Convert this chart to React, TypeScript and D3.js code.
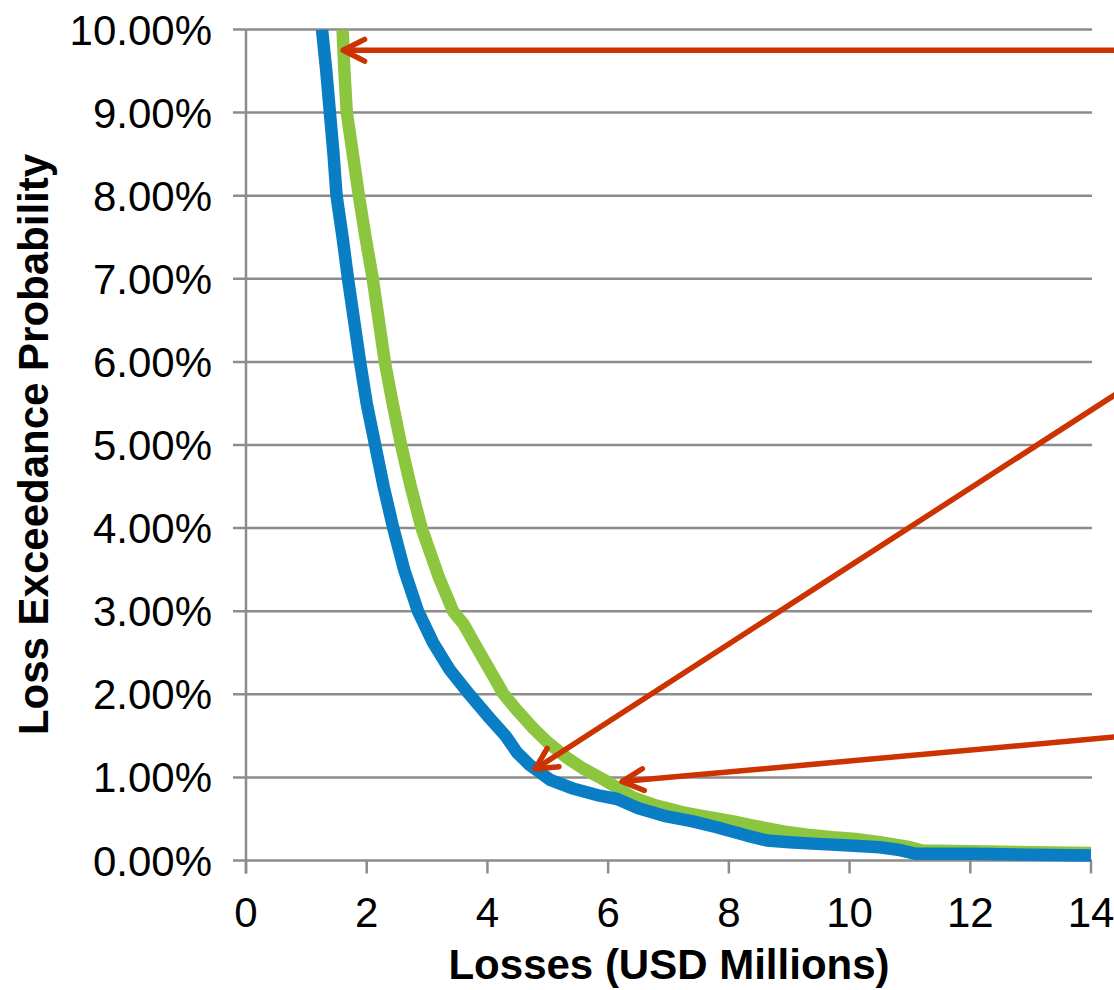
import React from "react";
import * as d3 from "d3";

const W = 1114;
const H = 990;

const xTicks = [0, 2, 4, 6, 8, 10, 12, 14];
const yTicks = [0, 1, 2, 3, 4, 5, 6, 7, 8, 9, 10];

// Blue series: losses (USD millions) vs exceedance probability (%)
const blueLoss = [1.26, 1.33, 1.39, 1.45, 1.5, 1.6, 1.69, 1.79, 1.89, 2.0, 2.14, 2.28, 2.44, 2.62, 2.85, 3.1, 3.38, 3.7, 4.04, 4.3, 4.49, 4.7, 4.85, 5.04, 5.4, 5.86, 6.15, 6.5, 6.97, 7.4, 7.8, 8.1, 8.3, 8.63, 9.0, 9.46, 10.0, 10.5, 10.8, 11.1, 12.0, 13.0, 14.0];
const blueProb = [10, 9.5, 9, 8.5, 8, 7.5, 7, 6.5, 6, 5.5, 5, 4.5, 4, 3.5, 3, 2.62, 2.29, 2.0, 1.71, 1.5, 1.3, 1.15, 1.07, 0.97, 0.87, 0.78, 0.74, 0.63, 0.53, 0.47, 0.4, 0.34, 0.3, 0.24, 0.22, 0.2, 0.18, 0.16, 0.13, 0.08, 0.08, 0.07, 0.06];

// Green series
const greenLoss = [1.6, 1.63, 1.67, 1.77, 1.87, 1.98, 2.1, 2.2, 2.3, 2.43, 2.57, 2.73, 2.91, 3.2, 3.43, 3.6, 3.85, 4.27, 4.5, 4.76, 5.0, 5.31, 5.6, 5.86, 6.1, 6.41, 6.8, 7.24, 7.6, 8.07, 8.4, 8.9, 9.3, 9.72, 10.1, 10.5, 11.0, 11.2, 12.0, 13.0, 14.0];
const greenProb = [10, 9.5, 9, 8.5, 8, 7.5, 7, 6.5, 6, 5.5, 5, 4.5, 4, 3.4, 3.0, 2.85, 2.53, 2.0, 1.8, 1.59, 1.42, 1.24, 1.1, 1.0, 0.9, 0.76, 0.66, 0.58, 0.53, 0.47, 0.42, 0.35, 0.31, 0.28, 0.26, 0.22, 0.16, 0.12, 0.11, 0.1, 0.09];

// Annotation arrows (data coordinates): start (off chart to the right) -> tip
const arrowFromX = [14.6, 14.6, 14.6];
const arrowFromY = [9.75, 5.7, 1.5];
const arrowTipX = [1.61, 4.79, 6.23];
const arrowTipY = [9.75, 1.1, 0.95];

const FONT = "'Liberation Sans', Arial, Helvetica, sans-serif";
const GRID = "#8c8c8c";
const BLUE = "#0a7ec4";
const GREEN = "#8cc63f";
const RED = "#cc3300";

export default function App() {
  const x = d3.scaleLinear().domain([0, 14]).range([246, 1091]);
  const y = d3.scaleLinear().domain([0, 10]).range([860.5, 29.5]);

  const line = d3
    .line<[number, number]>()
    .x((d) => x(d[0]))
    .y((d) => y(d[1]))
    .curve(d3.curveLinear);

  const blue: [number, number][] = blueLoss.map((v, i) => [v, blueProb[i]]);
  const green: [number, number][] = greenLoss.map((v, i) => [v, greenProb[i]]);

  const arrows = arrowTipX.map((tx, i) => {
    const x1 = x(arrowFromX[i]);
    const y1 = y(arrowFromY[i]);
    const x2 = x(tx);
    const y2 = y(arrowTipY[i]);
    const ang = Math.atan2(y1 - y2, x1 - x2);
    const len = 24;
    const spread = (27 * Math.PI) / 180;
    const a1x = x2 + len * Math.cos(ang + spread);
    const a1y = y2 + len * Math.sin(ang + spread);
    const a2x = x2 + len * Math.cos(ang - spread);
    const a2y = y2 + len * Math.sin(ang - spread);
    return { x1, y1, x2, y2, head: `M${a1x},${a1y}L${x2},${y2}L${a2x},${a2y}` };
  });

  const x0 = x(0);
  const y0 = y(0);

  return (
    <svg
      width={W}
      height={H}
      style={{ position: "absolute", left: 0, top: 0, background: "#fff" }}
      fontFamily={FONT}
    >
      <defs>
        <clipPath id="plot">
          <rect x={x0} y={y(10)} width={W - x0} height={y0 - y(10) + 10} />
        </clipPath>
      </defs>
      {/* horizontal gridlines */}
      {yTicks.map((t) => (
        <line key={"g" + t} x1={x0 - 13} x2={x(14) + 1} y1={y(t)} y2={y(t)} stroke={GRID} strokeWidth={2.5} />
      ))}
      {/* y axis */}
      <line x1={x0} x2={x0} y1={y(10)} y2={y0 + 13} stroke={GRID} strokeWidth={2.5} />
      {/* x ticks */}
      {xTicks.map((t) => (
        <line key={"xt" + t} x1={x(t)} x2={x(t)} y1={y0} y2={y0 + 13} stroke={GRID} strokeWidth={2.5} />
      ))}
      {/* y tick labels */}
      {yTicks.map((t) => (
        <text key={"yl" + t} x={212} y={y(t) + 15} textAnchor="end" fontSize={42} fill="#000">
          {t.toFixed(2) + "%"}
        </text>
      ))}
      {/* x tick labels */}
      {xTicks.map((t) => (
        <text key={"xl" + t} x={x(t)} y={927} textAnchor="middle" fontSize={42} fill="#000">
          {t}
        </text>
      ))}
      {/* axis titles */}
      <text x={669} y={979} textAnchor="middle" fontSize={42} fontWeight="bold" fill="#000">
        Losses (USD Millions)
      </text>
      <text
        transform="translate(48,444.5) rotate(-90)"
        textAnchor="middle"
        fontSize={42}
        fontWeight="bold"
        fill="#000"
      >
        Loss Exceedance Probability
      </text>
      {/* series */}
      <g clipPath="url(#plot)">
        <path d={line(green) || ""} fill="none" stroke={GREEN} strokeWidth={12.5} strokeLinejoin="round" />
        <path d={line(blue) || ""} fill="none" stroke={BLUE} strokeWidth={12.5} strokeLinejoin="round" />
      </g>
      {/* arrows */}
      {arrows.map((a, i) => (
        <g key={"a" + i}>
          <line x1={a.x1} y1={a.y1} x2={a.x2} y2={a.y2} stroke={RED} strokeWidth={5.5} />
          <path d={a.head} fill="none" stroke={RED} strokeWidth={5.5} strokeLinecap="round" strokeLinejoin="round" />
        </g>
      ))}
    </svg>
  );
}
